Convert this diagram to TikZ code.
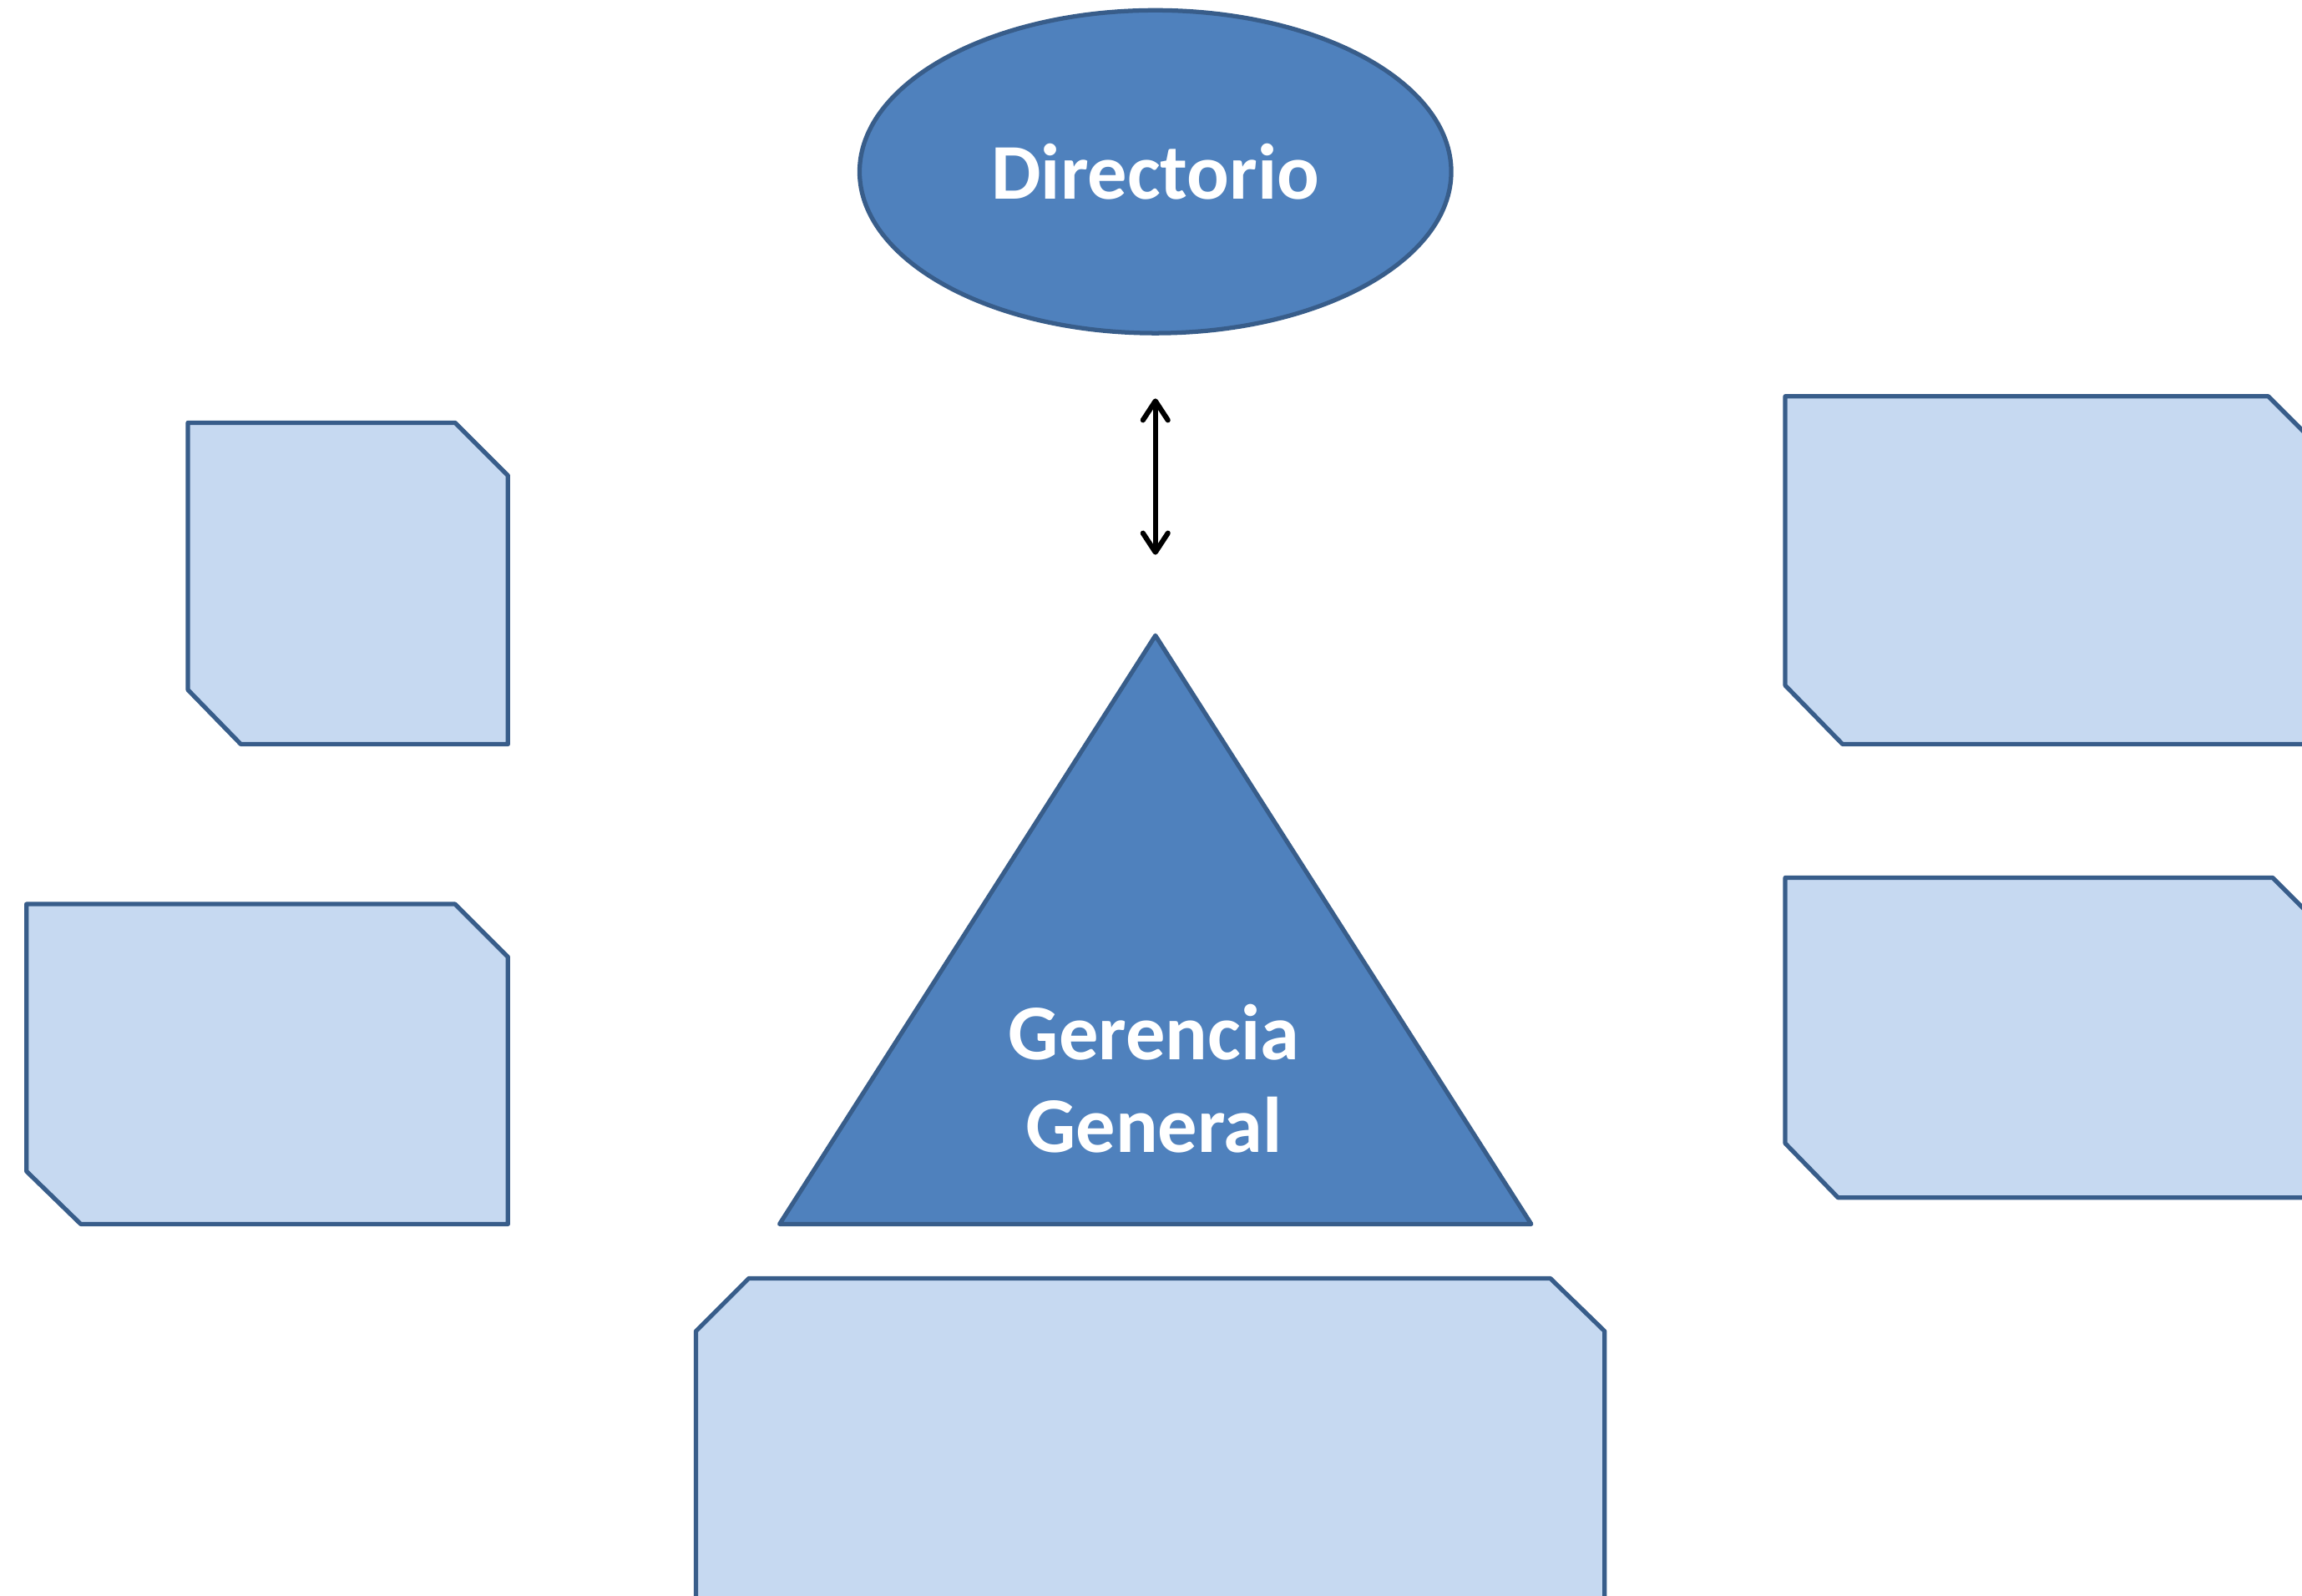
\documentclass[tikz,border=0pt]{standalone}
\usepackage{fontspec}
\setmainfont{Carlito}
\usetikzlibrary{positioning,arrows.meta,shapes.geometric}
\definecolor{azul}{HTML}{4F81BD}
\definecolor{celeste}{HTML}{C6D9F1}
\definecolor{borde}{HTML}{385D8A}

\begin{document}
\begin{tikzpicture}[x=0.1mm,y=-0.1mm,
  panel/.style={draw=borde,fill=celeste,line width=0.85pt,line join=round},
  oscuro/.style={draw=borde,fill=azul,line width=0.85pt,line join=round},
  rotulo/.style={text=white,font=\bfseries\fontsize{15.3}{18}\selectfont,align=center},
  barb/.tip={Straight Barb[length=1.3mm,width=1.7mm,round]}]
  \useasboundingbox (0,0) rectangle (1568,1087);
  \clip (0,0) rectangle (1568,1087);
  % areas laterales
  \draw[panel] (128,288) -- (310,288) -- (346,324) -- (346,507) -- (164,507) -- (128,470) -- cycle;
  \draw[panel] (18,616) -- (310,616) -- (346,652) -- (346,834) -- (55,834) -- (18,798) -- cycle;
  \draw[panel] (1216,270) -- (1545,270) -- (1585,310) -- (1585,507) -- (1255,507) -- (1216,467) -- cycle;
  \draw[panel] (1216,598) -- (1548,598) -- (1585,635) -- (1585,816) -- (1252,816) -- (1216,779) -- cycle;
  % area inferior
  \draw[panel] (474,907) -- (510,871) -- (1056,871) -- (1093,907) -- (1093,1120) -- (474,1120) -- cycle;
  % directorio y gerencia
  \node[ellipse,oscuro,minimum width=40.3mm,minimum height=22mm,rotulo] (dir) at (787,117) {Directorio};
  \draw[oscuro] (787,433) -- (1043,834) -- (531,834) -- cycle;
  \coordinate (apex) at (787,433);
  \node[rotulo] (ger) at (786,735) {Gerencia\\General};
  \draw[barb-barb,line width=1pt,shorten <=4.3mm,shorten >=5.5mm] (dir.south) -- (apex);
\end{tikzpicture}
\end{document}
